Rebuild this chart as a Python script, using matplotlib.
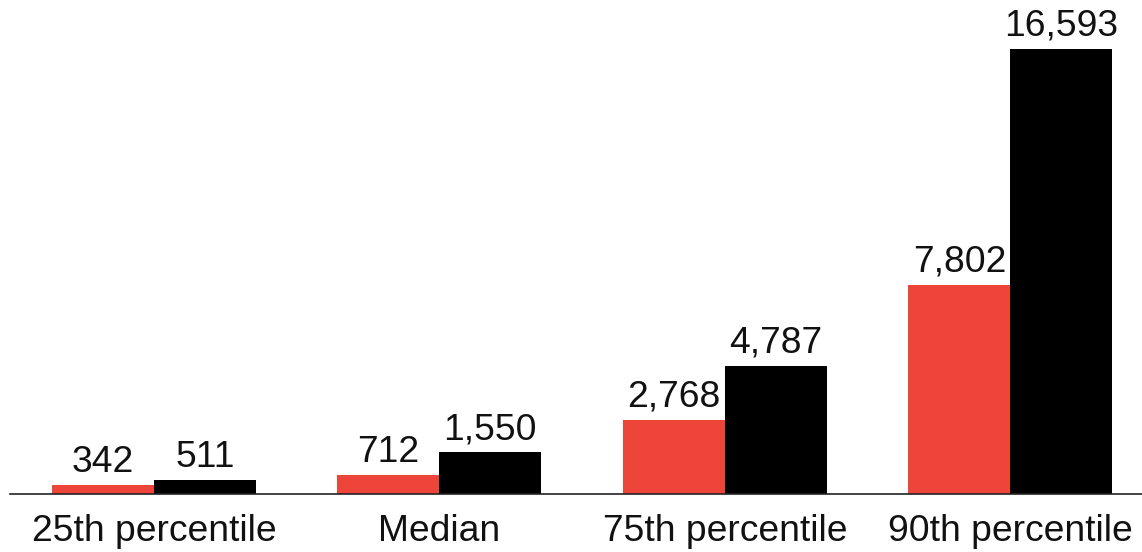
import matplotlib
matplotlib.use("Agg")
import matplotlib.pyplot as plt
import numpy as np

categories = ["25th percentile", "Median", "75th percentile", "90th percentile"]
series_red = [342, 712, 2768, 7802]
series_black = [511, 1550, 4787, 16593]

plt.rcParams['font.family'] = ['Liberation Sans', 'DejaVu Sans']

fig = plt.figure(figsize=(11.42, 5.52), dpi=100)
ax = fig.add_axes([10/1142, 58/552, 1 - 10/1142, 494/552])

x = np.arange(len(categories))
w = 0.357
b1 = ax.bar(x - w/2, series_red, width=w, color="#EE453A")
b2 = ax.bar(x + w/2, series_black, width=w, color="#000000")

for bars, vals in ((b1, series_red), (b2, series_black)):
    for rect, v in zip(bars, vals):
        ax.annotate(f"{v:,}", (rect.get_x() + rect.get_width()/2, rect.get_height()),
                    xytext=(0, 9.5), textcoords="offset points",
                    ha="center", va="baseline", fontsize=26.8, color="#111111")

ax.set_xlim(-0.504, 3.461)
ax.set_ylim(0, 18420)
ax.set_xticks(x)
ax.set_xticklabels(categories, fontsize=26.8, color="#111111")
ax.tick_params(axis="x", length=0, pad=14.5)
ax.set_yticks([])
for s in ("top", "right", "left"):
    ax.spines[s].set_visible(False)
ax.spines["bottom"].set_linewidth(1.2)
ax.spines["bottom"].set_color("#222222")

fig.savefig("out.png", dpi=100)
